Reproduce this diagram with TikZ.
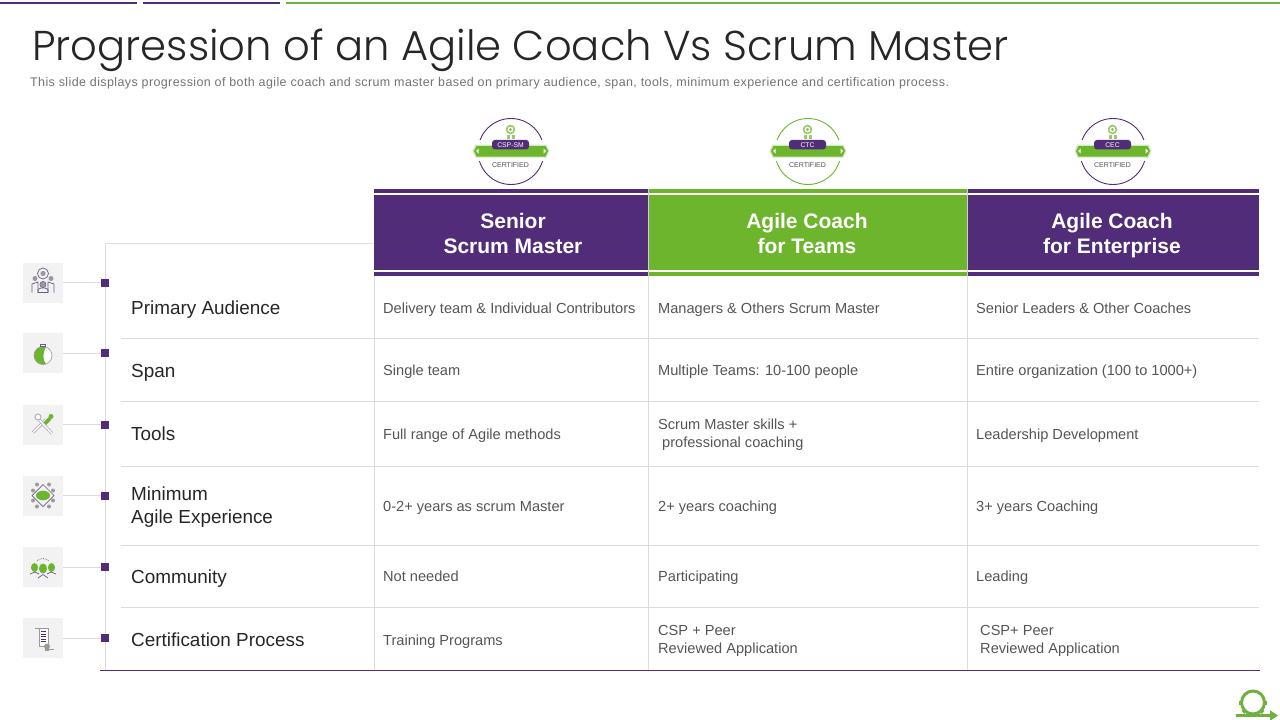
\documentclass[tikz,border=0pt]{standalone}
\usepackage{fontspec}
\setmainfont{Liberation Sans}
\newfontfamily\titlefont{Poppins Light}
\newfontfamily\subfont[LetterSpace=3.1]{Liberation Sans}
\usetikzlibrary{arrows.meta}
\definecolor{pur}{HTML}{512C78}
\definecolor{grn}{HTML}{6DB52C}
\definecolor{logog}{HTML}{70B040}
\definecolor{gridc}{HTML}{DCDCDC}
\definecolor{txt}{HTML}{555555}
\definecolor{iconbg}{HTML}{F2F2F2}
\definecolor{iconp}{HTML}{6A5A8C}
\definecolor{icong}{HTML}{9A9A9A}
\tikzset{
  x=1pt,y=-1pt,
  gridline/.style={draw=gridc,line width=1pt},
  headsep/.style={draw=pur!25!white,line width=.8pt},
  cell/.style={anchor=base west,align=left,text=txt,font=\fontsize{14.6}{18}\selectfont,inner sep=0pt},
  cellii/.style={anchor=west,align=left,text=txt,font=\fontsize{14.6}{18}\selectfont,inner sep=0pt},
  rowlabel/.style={anchor=base west,align=left,text=black!85,font=\fontsize{18.9}{23}\selectfont,inner sep=0pt},
  rowlabelii/.style={anchor=west,align=left,text=black!85,font=\fontsize{18.9}{23}\selectfont,inner sep=0pt},
  headtext/.style={align=center,text=white,font=\fontsize{21}{25}\selectfont\bfseries,inner sep=0pt},
  iconbox/.style={fill=iconbg,draw=none,minimum size=40pt,inner sep=0pt},
  dotbox/.style={fill=pur,draw=none,minimum size=8pt,inner sep=0pt},
  ribbon/.style={fill=grn,draw=none},
  iconline/.style={draw=iconp,line width=.7pt},
  icongrey/.style={fill=icong,draw=none},
}
\newcommand{\badge}[4]{%
  % #1 name, #2 x, #3 colour, #4 label
  \node[circle,draw=#3,line width=.9pt,minimum size=66pt,inner sep=0pt,fill=white] (#1) at (#2,151.5) {};
  \fill[white] (#2-42,140) rectangle (#2+42,161);
  \fill[grn!30!white] (#2-38.5,151) -- (#2-35.5,144.5) -- (#2+35.5,144.5) -- (#2+38.5,151) -- (#2+35.5,157.5) -- (#2-35.5,157.5) -- cycle;
  \fill[ribbon] (#2-37,151) -- (#2-34.5,146) -- (#2+34.5,146) -- (#2+37,151) -- (#2+34.5,156.5) -- (#2-34.5,156.5) -- cycle;
  \fill[white] (#2-35,151) -- (#2-32.5,148.5) -- (#2-32.5,153.5) -- cycle;
  \fill[white] (#2+35,151) -- (#2+32.5,148.5) -- (#2+32.5,153.5) -- cycle;
  \node[fill=pur,rounded corners=3pt,minimum width=37pt,minimum height=9.5pt,inner sep=0pt,text=white,font=\fontsize{6.8}{7}\selectfont] (#1l) at (#2-.5,144.7) {#4};
  \node[text=txt,inner sep=0pt,font=\fontsize{7}{7}\selectfont] (#1c) at (#2-.5,165.3) {CERTIFIED};
  \fill[grn!70!white] (#2-.5,129.5) circle (4.8pt);
  \fill[white] (#2-.5,129.5) circle (2.9pt);
  \fill[grn!80!white] (#2-.5,129.5) circle (1.6pt);
  \fill[grn!70!white] (#2-4.5,135) rectangle (#2-1.5,138.5);
  \fill[grn!70!white] (#2+.5,135) rectangle (#2+3.5,138.5);
}
\begin{document}
\begin{tikzpicture}
\useasboundingbox (0,0) rectangle (1280,720);
% top rules
\fill[pur] (0,2) rectangle (137,4);
\fill[pur] (143,2) rectangle (280,4);
\fill[logog] (286,2) rectangle (1280,4);
% title
\node[anchor=base west,inner sep=0pt,text=black!85,font=\titlefont\fontsize{41.7}{50}\selectfont] (title) at (32,60) {Progression of an Agile Coach Vs Scrum Master};
\node[anchor=base west,inner sep=0pt,text=black!55,font=\subfont\fontsize{12.5}{14}\selectfont] (sub) at (30,86) {This slide displays progression of both agile coach and scrum master based on primary audience, span, tools, minimum experience and certification process.};
% badges
\badge{ba}{511}{pur}{CSP-SM}
\badge{bb}{808}{grn}{CTC}
\badge{bc}{1113}{pur}{CEC}
% headers
\fill[pur] (374,188.5) rectangle (648.5,193);
\fill[grn] (648.5,188.5) rectangle (967,193);
\fill[pur] (967,188.5) rectangle (1259,193);
\fill[pur] (374,195) rectangle (648.5,270);
\fill[grn] (648.5,195) rectangle (967,270);
\fill[pur] (967,195) rectangle (1259,270);
\fill[pur] (374,272) rectangle (648.5,275.5);
\fill[grn] (648.5,272) rectangle (967,275.5);
\fill[pur] (967,272) rectangle (1259,275.5);
\foreach \x in {648.5,967} {\draw[headsep] (\x,188.5) -- (\x,275.5);}
\node[headtext] (ha) at (513,233.5) {Senior\\Scrum Master};
\node[headtext] (hb) at (807,233.5) {Agile Coach\\for Teams};
\node[headtext] (hc) at (1112,235.5) {Agile Coach\\for Enterprise};
% grid
\foreach \y in {338.5,401.5,466,545,607.5} {\draw[gridline] (121,\y) -- (1259,\y);}
\foreach \x in {374,648.5,967} {\draw[gridline] (\x,276) -- (\x,670);}
% spine
\coordinate (s0) at (373,243);
\coordinate (s1) at (105.5,243);
\coordinate (s2) at (105.5,670);
\draw[gridline] (s0) -- (s1) -- (s2);
\coordinate (b0) at (100,670.5);
\coordinate (b1) at (1260,670.5);
\draw[draw=pur,line width=1pt] (b0) -- (b1);
% icons and dots
\foreach \n/\y in {1/282.5,2/353,3/424.5,4/495.5,5/567,6/638} {
  \node[iconbox] (i\n) at (43,\y) {};
  \node[dotbox] (d\n) at (105,\y) {};
  \draw[gridline] (i\n.east) -- (d\n.west);
}
% icon 1: audience
\begin{scope}[shift={(43,282.5)}]
  \draw[iconline] (0,-9) circle (5.5);
  \fill[icong] (0,-9) circle (2.6);
  \fill[icong] (-8,-4) circle (2.5);
  \fill[icong] (8,-4) circle (2.5);
  \fill[icong] (0,2) circle (2.5);
  \draw[iconline] (-11,10) -- (-11,1.5) -- (-5,-.5) -- (-5,10);
  \draw[iconline] (11,10) -- (11,1.5) -- (5,-.5) -- (5,10);
  \draw[iconline] (-5,10) -- (-5,7) -- (-2,5.5) -- (2,5.5) -- (5,7) -- (5,10) -- cycle;
  \draw[iconline] (0,2) circle (3);
\end{scope}
% icon 2: stopwatch
\begin{scope}[shift={(43,353)}]
  \fill[white] (0,2.5) circle (9);
  \fill[grn] (3,-6) arc (-70:-270:9) -- (3,11) .. controls (-1,7) and (0,-1) .. (3,-6) -- cycle;
  \draw[draw=icong,line width=.6pt] (0,2.5) circle (9);
  \draw[iconline] (-2.5,-9) rectangle (2.5,-7);
\end{scope}
% icon 3: tools
\begin{scope}[shift={(43,424.5)}]
  \draw[draw=iconp!50!white,line width=3pt] (-10,8) -- (3,-5);
  \draw[draw=white,line width=1.4pt] (-10,8) -- (3,-5);
  \draw[draw=iconp!50!white,line width=3pt] (-5,-6) -- (9,9);
  \draw[draw=white,line width=1.4pt] (-5,-6) -- (9,9);
  \draw[draw=grn,line width=3.8pt] (2,-1) -- (7,-6);
  \fill[grn] (8,-8) circle (2.5);
  \draw[draw=iconp!50!white,fill=white,line width=1pt] (-5,-7.5) circle (3);
\end{scope}
% icon 4: network
\begin{scope}[shift={(43,495.5)}]
  \draw[iconline] (0,-11) -- (11,0) -- (0,11) -- (-11,0) -- cycle;
  \fill[grn] (0,0) ellipse (7 and 4.8);
  \foreach \a/\b in {-10/-5,10/-5,-10/5,10/5,-6/-11,6/-11,-6/11,6/11} {\fill[icong] (\a,\b) circle (2);}
\end{scope}
% icon 5: community
\begin{scope}[shift={(43,567)}]
  \fill[grn] (-8.5,.5) ellipse (3.5 and 4.4);
  \fill[grn] (8.5,.5) ellipse (3.5 and 4.4);
  \fill[grn] (0,1.5) ellipse (4 and 5);
  \draw[iconline] (-13,7) -- (-8,5) -- (-4,7);
  \draw[iconline] (13,7) -- (8,5) -- (4,7);
  \draw[iconline] (-5,11) -- (0,7.5) -- (5,11);
  \draw[iconline,densely dotted] (-6,-6) arc (-135:-45:8.5);
\end{scope}
% icon 6: certificate
\begin{scope}[shift={(43,638)}]
  \draw[draw=icong,line width=.7pt,fill=white] (-8,-10) -- (5,-10) -- (5,8) -- (-4,8) -- (-4,-10);
  \foreach \y in {-6.5,-4,-1.5,1,3.5} {\draw[draw=pur,line width=.9pt] (-2.5,\y) -- (3,\y);}
  \fill[icong] (4,8.5) circle (3);
  \fill[icong] (6,10.5) rectangle (11,12);
  \fill[icong] (2,11) rectangle (6,13);
\end{scope}
% row labels
\node[rowlabel] (r1) at (131,314) {Primary Audience};
\node[rowlabel] (r2) at (131,377) {Span};
\node[rowlabel] (r3) at (131,440.4) {Tools};
\node[rowlabelii] (r4) at (131,507.5) {Minimum\\Agile Experience};
\node[rowlabel] (r5) at (131,583) {Community};
\node[rowlabel] (r6) at (131,646) {Certification Process};
% cells
\node[cell] (c11) at (383,313.25) {Delivery team \& Individual  Contributors};
\node[cell] (c12) at (658,313.25) {Managers \& Others Scrum Master};
\node[cell] (c13) at (976,313.25) {Senior Leaders \& Other Coaches};
\node[cell] (c21) at (383,375) {Single team};
\node[cell] (c22) at (658,375) {Multiple  Teams: 10-100 people};
\node[cell] (c23) at (976,375) {Entire organization (100 to 1000+)};
\node[cell] (c31) at (383,439.25) {Full range of Agile methods};
\node[cellii] (c32) at (658,435) {Scrum Master skills +\\\hspace*{4pt}professional coaching};
\node[cell] (c33) at (976,439.25) {Leadership Development};
\node[cell] (c41) at (383,511) {0-2+ years as scrum Master};
\node[cell] (c42) at (658,511) {2+ years coaching};
\node[cell] (c43) at (976,511) {3+ years Coaching};
\node[cell] (c51) at (383,581.25) {Not needed};
\node[cell] (c52) at (658,581.25) {Participating};
\node[cell] (c53) at (976,581.25) {Leading};
\node[cell] (c61) at (383,645) {Training Programs};
\node[cellii] (c62) at (658,641) {CSP + Peer\\Reviewed Application};
\node[cellii] (c63) at (980,641) {CSP+ Peer\\Reviewed Application};
% corner logo
\begin{scope}[shift={(1253,702.5)}]
  \draw[draw=logog,line width=3pt] (0,0) circle (11.5);
  \foreach \a in {-135,-90,-45,0,180} {\fill[logog,rotate=\a] (10,-2) rectangle (14,2);}
\end{scope}
\coordinate (la) at (1236,715.5);
\coordinate (lb) at (1278,715.5);
\draw[draw=logog,line width=2.6pt,-{Triangle[length=8pt,width=10pt]}] (la) -- (lb);
\end{tikzpicture}
\end{document}
